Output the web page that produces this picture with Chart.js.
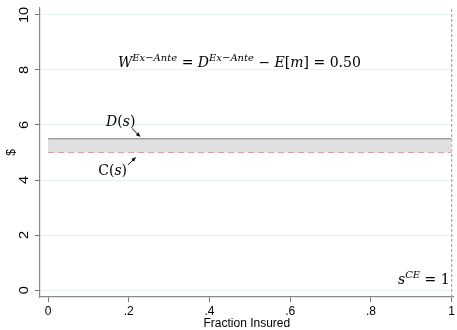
<!DOCTYPE html>
<html><head><meta charset="utf-8">
<script src="https://cdn.jsdelivr.net/npm/chart.js@4"></script>
<style>html,body{margin:0;padding:0;background:#fff}canvas{display:block}</style>
</head><body>
<canvas id="c" width="457" height="330"></canvas>
<script>
// ---- data ----
const fractionInsured = [0, 1];
const demandD = [5.5, 5.5];
const costC = [5.0, 5.0];
const xTicks = [0, 0.2, 0.4, 0.6, 0.8, 1];
const xTickLabels = ['0', '.2', '.4', '.6', '.8', '1'];
const yTicks = [0, 2, 4, 6, 8, 10];
const yTickLabels = ['0', '2', '4', '6', '8', '10'];
const sCE = 1;
const welfareExAnte = '0.50';
const xTitle = 'Fraction Insured';
const yTitle = '$';

const X_MIN = -0.02, X_MAX = 1.005, Y_MIN = -0.25, Y_MAX = 10.25;

const serif = '"DejaVu Serif", "Liberation Serif", serif';
const sans = '"Liberation Sans", Arial, sans-serif';

function drawRich(ctx, segs, x, y, align, sizeMain, sizeSup) {
  sizeMain = sizeMain || 14; sizeSup = sizeSup || 10;
  let total = 0;
  const ms = segs.map(s => {
    ctx.font = (s.it ? 'italic ' : '') + (s.sup ? sizeSup : sizeMain) + 'px ' + serif;
    const w = ctx.measureText(s.t).width;
    total += w;
    return w;
  });
  let cx = align === 'center' ? x - total / 2 : (align === 'right' ? x - total : x);
  ctx.textBaseline = 'alphabetic';
  ctx.textAlign = 'left';
  segs.forEach((s, i) => {
    ctx.font = (s.it ? 'italic ' : '') + (s.sup ? sizeSup : sizeMain) + 'px ' + serif;
    ctx.fillText(s.t, cx, s.sup ? y - 6 : y);
    cx += ms[i];
  });
}

function arrow(ctx, x1, y1, x2, y2) {
  ctx.save();
  ctx.strokeStyle = '#000'; ctx.fillStyle = '#000'; ctx.lineWidth = 1;
  ctx.beginPath(); ctx.moveTo(x1, y1); ctx.lineTo(x2, y2); ctx.stroke();
  const a = Math.atan2(y2 - y1, x2 - x1), L = 4, W = 2;
  ctx.beginPath();
  ctx.moveTo(x2, y2);
  ctx.lineTo(x2 - L * Math.cos(a) + W * Math.sin(a), y2 - L * Math.sin(a) - W * Math.cos(a));
  ctx.lineTo(x2 - L * Math.cos(a) - W * Math.sin(a), y2 - L * Math.sin(a) + W * Math.cos(a));
  ctx.closePath(); ctx.fill();
  ctx.restore();
}

const annot = {
  id: 'annot',
  afterDraw(chart) {
    const ctx = chart.ctx, xs = chart.scales.x, ys = chart.scales.y;
    const px = v => xs.getPixelForValue(v), py = v => ys.getPixelForValue(v);
    ctx.save();
    ctx.fillStyle = '#000';
    // y tick labels rotated
    ctx.font = '13px ' + sans;
    ctx.textAlign = 'center'; ctx.textBaseline = 'middle';
    yTicks.forEach((v, i) => {
      ctx.save();
      ctx.translate(24, py(v));
      ctx.rotate(-Math.PI / 2);
      ctx.scale(1.12, 1);
      ctx.fillText(yTickLabels[i], 0, 0);
      ctx.restore();
    });
    // equation
    drawRich(ctx, [
      {t: 'W', it: true}, {t: 'Ex\u2212Ante', it: true, sup: true},
      {t: ' = '}, {t: 'D', it: true}, {t: 'Ex\u2212Ante', it: true, sup: true},
      {t: ' \u2212 '}, {t: 'E', it: true}, {t: '['}, {t: 'm', it: true}, {t: '] = ' + welfareExAnte}
    ], px(0.474), py(8.12), 'center', 14, 10);
    // D(s)
    drawRich(ctx, [{t: 'D', it: true}, {t: '('}, {t: 's', it: true}, {t: ')'}], px(0.18), py(5.95), 'center', 14, 10);
    arrow(ctx, px(0.208), py(5.87), px(0.228), py(5.58));
    // C(s)
    drawRich(ctx, [{t: 'C('}, {t: 's', it: true}, {t: ')'}], px(0.16), py(4.2), 'center', 14, 10);
    arrow(ctx, px(0.198), py(4.55), px(0.217), py(4.82));
    // s^CE = 1
    drawRich(ctx, [{t: 's', it: true}, {t: 'CE', it: true, sup: true}, {t: ' = ' + sCE}], px(0.995), py(0.24), 'right', 14, 10);
    ctx.restore();
  }
};

new Chart(document.getElementById('c'), {
  type: 'scatter',
  data: {
    datasets: [
      {
        label: 'C(s)',
        data: fractionInsured.map((x, i) => ({x, y: costC[i]})),
        showLine: true, borderColor: '#d9a3a8', borderWidth: 1.2, borderDash: [6, 4],
        pointRadius: 0, fill: false
      },
      {
        label: 'D(s)',
        data: fractionInsured.map((x, i) => ({x, y: demandD[i]})),
        showLine: true, borderColor: '#a0a0a0', borderWidth: 1.6,
        pointRadius: 0, fill: '-1', backgroundColor: 'rgba(224,224,224,1)'
      },
      {
        label: 'sCE',
        data: [{x: sCE, y: Y_MIN}, {x: sCE, y: Y_MAX}],
        showLine: true, borderColor: '#a8a8a8', borderWidth: 1.2, borderDash: [3, 2],
        pointRadius: 0, fill: false
      }
    ]
  },
  options: {
    responsive: false, animation: false, devicePixelRatio: 1,
    layout: {padding: {top: 8, right: 2, left: 0, bottom: 0}},
    plugins: {legend: {display: false}, tooltip: {enabled: false}},
    scales: {
      x: {
        type: 'linear', min: X_MIN, max: X_MAX,
        afterBuildTicks: s => { s.ticks = xTicks.map(v => ({value: v})); },
        afterFit: s => { s.height = 33; },
        ticks: {
          autoSkip: false, maxRotation: 0, padding: 2,
          color: '#000', font: {family: sans, size: 12},
          callback: (v) => xTickLabels[xTicks.indexOf(v)] ?? ''
        },
        grid: {drawOnChartArea: false, drawTicks: true, tickLength: 5, tickColor: '#777'},
        border: {color: '#888', width: 1.2},
        title: {display: true, text: xTitle, color: '#000', font: {family: sans, size: 12}, padding: {top: 0, bottom: -1}}
      },
      y: {
        type: 'linear', min: Y_MIN, max: Y_MAX,
        afterBuildTicks: s => { s.ticks = yTicks.map(v => ({value: v})); },
        afterFit: s => { s.width = 40; },
        ticks: {display: false},
        grid: {color: '#e8f1f2', lineWidth: 1, drawTicks: true, tickLength: 5, tickColor: '#777'},
        border: {color: '#888', width: 1.2},
        title: {display: true, text: yTitle, color: '#000', font: {family: sans, size: 12}, padding: {top: 4, bottom: 0}}
      }
    }
  },
  plugins: [annot]
});
</script>
</body></html>
